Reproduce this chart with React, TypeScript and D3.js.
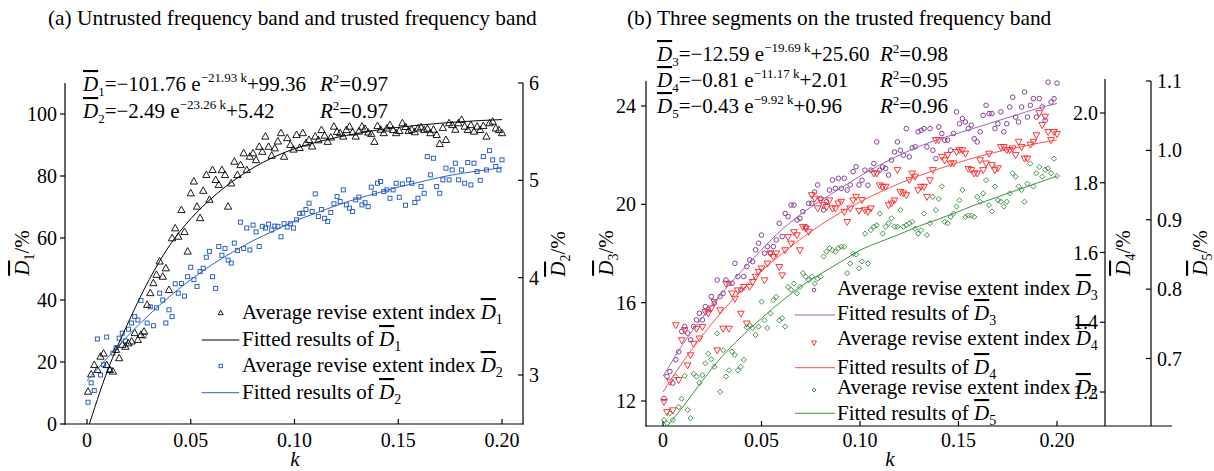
import React from 'react';
import * as d3 from 'd3';

// ---------- data ----------
const K = [
  0.0005,0.002,0.0035,0.005,0.0065,0.008,0.0095,0.011,0.0125,0.014,
  0.0155,0.017,0.0185,0.02,0.0215,0.023,0.0245,0.026,0.0275,0.029,
  0.0305,0.032,0.0335,0.035,0.0365,0.038,0.0395,0.041,0.0425,0.044,
  0.0455,0.047,0.0485,0.05,0.0515,0.053,0.0545,0.056,0.0575,0.059,
  0.0605,0.062,0.0635,0.065,0.0665,0.068,0.0695,0.071,0.0725,0.074,
  0.0755,0.077,0.0785,0.08,0.0815,0.083,0.0845,0.086,0.0875,0.089,
  0.0905,0.092,0.0935,0.095,0.0965,0.098,0.0995,0.101,0.1025,0.104,
  0.1055,0.107,0.1085,0.11,0.1115,0.113,0.1145,0.116,0.1175,0.119,
  0.1205,0.122,0.1235,0.125,0.1265,0.128,0.1295,0.131,0.1325,0.134,
  0.1355,0.137,0.1385,0.14,0.1415,0.143,0.1445,0.146,0.1475,0.149,
  0.1505,0.152,0.1535,0.155,0.1565,0.158,0.1595,0.161,0.1625,0.164,
  0.1655,0.167,0.1685,0.17,0.1715,0.173,0.1745,0.176,0.1775,0.179,
  0.1805,0.182,0.1835,0.185,0.1865,0.188,0.1895,0.191,0.1925,0.194,
  0.1955,0.197,0.1985,0.2,
];

const D1 = [
  10.4,16,19,17.4,21.7,22.7,19,17.4,16.9,23.9,
  21.2,25.5,24.9,26,26.6,29.3,27.1,28.7,29.8,38.4,
  42.2,45.4,48.1,52.4,47.5,50.2,43.2,59.9,63.1,60.4,
  69,61.9,55.6,74.4,78.2,70.1,66.4,75.2,80.3,72.3,
  81.9,78.7,77.1,81.9,80.3,70.1,77.6,84.6,80.3,83.5,
  87.3,81.9,86.2,87.3,85.1,89.4,87.8,92.7,89.4,86.5,
  88.9,91.1,93.8,86.2,92.2,90,88.5,93.2,89,93.8,
  90.5,91.6,89.5,92.7,91.5,94.8,93,91,92.4,95.9,
  94.2,93.8,92.7,94.8,95.9,94,92.7,94.3,95.9,95.2,
  94,93.5,91,96.1,94.9,93.8,95.3,96.4,94.8,93.8,
  94.5,97,95.8,94.5,94.9,94.1,95.3,95.7,94.8,95.2,
  93.8,94.9,93.2,90.3,95.5,91.6,97,96.4,94.9,97,
  98.1,95.9,94.8,96.4,94.3,95.9,94.8,96.1,92.7,97,
  97.5,95.3,94.8,93.8,
];

const D2 = [
  2.72,2.92,2.84,3.37,3.0,3.105,3.39,3.054,3.225,3.28,
  3.378,3.43,3.35,3.47,3.534,3.6,3.566,3.766,3.4,3.534,
  3.7,3.506,3.69,3.84,3.77,3.534,3.67,3.6,3.937,3.84,
  3.94,3.81,4.01,4.107,3.98,3.91,4.062,4.097,4.21,4.27,
  4.01,3.89,4.32,4.23,4.3,4.18,4.15,4.355,4.28,4.57,
  4.3,4.51,4.285,4.54,4.47,4.32,4.527,4.51,4.55,4.49,
  4.53,4.527,4.42,4.555,4.52,4.555,4.51,4.594,4.66,4.663,
  4.7,4.765,4.68,4.861,4.628,4.7,4.61,4.578,4.67,4.759,
  4.833,4.782,4.902,4.748,4.714,4.68,4.8,4.827,4.748,4.77,
  4.73,4.93,4.867,4.97,4.988,4.885,4.902,4.816,4.902,4.97,
  4.826,4.963,4.744,5.005,4.97,4.772,4.816,4.936,4.867,5.244,
  5.056,5.227,4.936,4.867,5.005,5.125,5.005,5.107,5.176,5.005,
  5.107,4.97,5.183,4.953,5.176,5.09,5.0,5.244,5.107,5.305,
  5.21,5.142,5.107,5.21,
];

const D3V = [
  12.1,13.0,13.2,12.73,13.68,14.0,14.83,15.03,14.76,14.49,
  15.03,15.3,15.57,15.3,15.84,15.71,16.25,15.98,16.92,16.25,
  16.38,16.92,16.79,16.79,17.6,17.06,16.52,17.06,17.47,17.74,
  17.67,18.15,18.42,18.75,18.01,18.28,18.01,18.28,18.55,19.23,
  18.69,19.63,19.5,19.97,19.97,19.36,19.43,19.7,19.09,20.04,
  20.04,20.5,20.79,20.24,19.77,20.11,20.58,20.99,20.65,21.06,
  20.65,21.06,20.58,20.79,21.33,21.53,20.79,20.98,21.39,20.78,
  21.39,21.66,22.54,21.39,21.52,21.46,21.19,21.8,22.13,22.54,
  22.2,22.0,23.08,21.93,22.3,22.34,22.95,23.01,23.08,22.34,
  23.08,22.2,21.86,23.15,22.88,22.61,22.61,22.2,22.88,23.76,
  23.28,23.49,23.35,23.08,23.22,22.67,22.54,22.95,23.62,24.03,
  23.69,23.69,23.08,23.28,23.76,22.95,23.28,23.96,24.36,23.55,
  23.35,23.96,24.57,23.55,24.03,24.3,23.55,24.3,23.96,23.42,
  24.97,24.16,24.3,24.93,
];

const D4V = [
  1.172,1.143,1.23,1.148,1.392,1.235,1.349,1.378,1.277,1.306,
  1.339,1.382,1.354,1.387,1.43,1.426,1.44,1.459,1.32,1.435,
  1.382,1.511,1.382,1.483,1.468,1.492,1.425,1.502,1.397,1.502,
  1.516,1.531,1.545,1.555,1.521,1.569,1.598,1.588,1.598,1.559,
  1.535,1.607,1.645,1.626,1.659,1.65,1.607,1.674,1.669,1.66,
  1.765,1.755,1.727,1.75,1.736,1.731,1.75,1.727,1.727,1.741,
  1.746,1.717,1.688,1.727,1.75,1.76,1.72,1.751,1.722,1.717,
  1.727,1.827,1.827,1.793,1.789,1.789,1.736,1.741,1.75,1.837,
  1.774,1.77,1.765,1.808,1.827,1.818,1.779,1.789,1.789,1.76,
  1.808,1.837,1.923,1.923,1.875,1.865,1.88,1.856,1.856,1.889,
  1.894,1.894,1.884,1.84,1.837,1.827,1.827,1.865,1.837,1.856,
  1.884,1.851,1.837,1.842,1.903,1.903,1.894,1.894,1.899,1.88,
  1.918,1.903,1.87,1.87,1.91,1.918,1.937,2.0,1.966,1.99,
  1.946,1.923,1.946,1.94,
];

const D5V = [
  0.6114,0.6066,0.621,0.6114,0.674,0.63,0.642,0.675,0.626,0.614,
  0.678,0.674,0.665,0.676,0.693,0.707,0.699,0.688,0.736,0.652,
  0.712,0.674,0.683,0.71,0.705,0.683,0.688,0.698,0.745,0.748,
  0.744,0.734,0.746,0.782,0.755,0.744,0.765,0.784,0.789,0.755,
  0.758,0.746,0.803,0.799,0.808,0.794,0.803,0.823,0.818,0.813,
  0.818,0.808,0.815,0.818,0.847,0.854,0.859,0.856,0.854,0.859,
  0.861,0.861,0.823,0.837,0.851,0.85,0.83,0.84,0.88,0.837,
  0.885,0.89,0.892,0.909,0.88,0.89,0.895,0.902,0.89,0.89,
  0.914,0.89,0.892,0.895,0.897,0.887,0.88,0.885,0.909,0.878,
  0.895,0.933,0.914,0.93,0.948,0.897,0.895,0.904,0.909,0.919,
  0.928,0.943,0.904,0.906,0.906,0.904,0.933,0.926,0.938,0.957,
  0.921,0.912,0.948,0.928,0.926,0.919,0.926,0.938,0.967,0.962,
  0.948,0.943,0.926,0.952,0.981,0.948,0.967,0.976,0.962,0.972,
  0.974,0.967,0.988,0.963,
];

// fitted curves, read at k = 0, 0.01, ..., 0.20
const FK = [0,0.01,0.02,0.03,0.04,0.05,0.06,0.07,0.08,0.09,0.1,0.11,0.12,0.13,0.14,0.15,0.16,0.17,0.18,0.19,0.2];
const D1FIT = [-2.4,17.4,32.9,46.6,57.8,66.2,72.8,78.2,82.6,86.1,88.8,90.8,92.4,93.7,94.8,95.7,96.4,97,97.5,97.9,98.2];
const D2FIT = [2.94,3.18,3.41,3.62,3.81,3.98,4.13,4.26,4.38,4.48,4.58,4.66,4.74,4.81,4.87,4.93,4.98,5.03,5.07,5.1,5.13];
const D3FIT = [13.0,14.3,15.4,16.4,17.3,18.15,18.95,19.6,20.15,20.65,21.15,21.6,22.0,22.35,22.65,22.9,23.15,23.4,23.65,23.9,24.1];
const D4FIT = [1.2,1.286,1.362,1.431,1.492,1.547,1.595,1.639,1.679,1.714,1.745,1.773,1.798,1.82,1.84,1.858,1.875,1.889,1.901,1.913,1.923];
const D5FIT = [0.595,0.63,0.668,0.703,0.732,0.758,0.782,0.804,0.822,0.839,0.856,0.868,0.879,0.891,0.901,0.912,0.923,0.933,0.943,0.953,0.963];

const X_TICKS = [0, 0.05, 0.1, 0.15, 0.2];
const X_TICK_LABELS = ['0', '0.05', '0.10', '0.15', '0.20'];
const D1_TICKS = [0, 20, 40, 60, 80, 100];
const D2_TICKS = [3, 4, 5, 6];
const D3_TICKS = [12, 16, 20, 24];
const D4_TICKS = [1.2, 1.4, 1.6, 1.8, 2.0];
const D4_TICK_LABELS = ['1.2', '1.4', '1.6', '1.8', '2.0'];
const D5_TICKS = [0.7, 0.8, 0.9, 1.0, 1.1];
const D5_TICK_LABELS = ['0.7', '0.8', '0.9', '1.0', '1.1'];

// ---------- style ----------
const FONT = '"Liberation Serif", "Times New Roman", "DejaVu Serif", serif';
const C_BLACK = '#000000';
const C_BLUE = '#2d63c2';
const C_PURPLE = '#7b2c8f';
const C_PURPLE_LINE = '#9b63b5';
const C_RED = '#ff2020';
const C_RED_LINE = '#ff4d4d';
const C_GREEN = '#2a8a35';
const C_GREEN_LINE = '#3a963c';

// ---------- scales ----------
const xA = d3.scaleLinear().domain([0, 0.2]).range([87, 502]);
const yA1 = d3.scaleLinear().domain([0, 100]).range([424, 114]);
const yA2 = d3.scaleLinear().domain([3, 6]).range([375, 83]);
const xB = d3.scaleLinear().domain([0, 0.2]).range([663, 1057]);
const yB3 = d3.scaleLinear().domain([12, 24]).range([401, 106]);
const yB4 = d3.scaleLinear().domain([1.2, 2.0]).range([392, 113]);
const yB5 = d3.scaleLinear().domain([0.7, 1.1]).range([358.5, 81]);

const triUp = (x: number, y: number, s = 6.5) =>
  `M${x},${y - s * 0.62}L${x + s * 0.56},${y + s * 0.38}L${x - s * 0.56},${y + s * 0.38}Z`;
const triDown = (x: number, y: number, s = 6.5) =>
  `M${x},${y + s * 0.62}L${x + s * 0.56},${y - s * 0.38}L${x - s * 0.56},${y - s * 0.38}Z`;
const diamond = (x: number, y: number, s = 2.6) =>
  `M${x},${y - s}L${x + s},${y}L${x},${y + s}L${x - s},${y}Z`;

const fitPath = (xs: d3.ScaleLinear<number, number>, ys: d3.ScaleLinear<number, number>, vals: number[]) =>
  d3.line<number>()
    .x((_, i) => xs(FK[i]))
    .y((v) => ys(v))
    .curve(d3.curveMonotoneX)(vals) || '';

const OL: React.CSSProperties = { textDecoration: 'overline' };

const DBar = ({ n, sub = 14, shift = 5, after }: { n: string; sub?: number; shift?: number; after?: string }) => (
  <>
    <tspan fontStyle="italic" style={OL}>D</tspan>
    <tspan fontSize={sub} dy={shift}>{n}</tspan>
    {after !== undefined ? <tspan dy={-shift}>{after}</tspan> : null}
  </>
);

const Eq = ({ x, y, n, a, b, c }: { x: number; y: number; n: string; a: string; b: string; c: string }) => (
  <text x={x} y={y} fontSize={21}>
    <tspan fontStyle="italic" style={OL}>D</tspan>
    <tspan fontSize={13} dy={5}>{n}</tspan>
    <tspan dy={-5}>{`=−${a} e`}</tspan>
    <tspan fontSize={13} dy={-9}>{`−${b} k`}</tspan>
    <tspan dy={9}>{`+${c}`}</tspan>
  </text>
);

const R2 = ({ x, y, v }: { x: number; y: number; v: string }) => (
  <text x={x} y={y} fontSize={21}>
    <tspan fontStyle="italic">R</tspan>
    <tspan fontSize={13} dy={-8}>2</tspan>
    <tspan dy={8}>{`=${v}`}</tspan>
  </text>
);

export default function App() {
  return (
    <svg
      width={1214}
      height={471}
      style={{ position: 'absolute', left: 0, top: 0, background: '#fff', fontFamily: FONT }}
    >
      <defs>
        <clipPath id="clipA"><rect x={65} y={83} width={458} height={341} /></clipPath>
        <clipPath id="clipB"><rect x={646} y={79} width={459} height={347} /></clipPath>
      </defs>
      <g style={{ fontFamily: FONT }}>

      {/* ================= Panel (a) ================= */}
      <text x={48} y={25} fontSize={21.4}>(a) Untrusted frequency band and trusted frequency band</text>

      {/* axes */}
      <g stroke={C_BLACK} strokeWidth={1.2} fill="none">
        <line x1={65} y1={83} x2={65} y2={424.5} />
        <line x1={64.5} y1={424} x2={523.5} y2={424} />
        <line x1={523} y1={83} x2={523} y2={424.5} />
        {D1_TICKS.map((t) => <line key={'a1' + t} x1={60} x2={65} y1={yA1(t)} y2={yA1(t)} />)}
        {D2_TICKS.map((t) => <line key={'a2' + t} x1={518} x2={523} y1={yA2(t)} y2={yA2(t)} />)}
        {X_TICKS.map((t) => <line key={'ax' + t} x1={xA(t)} x2={xA(t)} y1={424} y2={419} />)}
      </g>
      <g fontSize={20}>
        {D1_TICKS.map((t) => <text key={'la1' + t} x={57} y={yA1(t) + 7} textAnchor="end">{t}</text>)}
        {D2_TICKS.map((t) => <text key={'la2' + t} x={529} y={yA2(t) + 7}>{t}</text>)}
        {X_TICKS.map((t, i) => <text key={'lax' + t} x={xA(t)} y={447} textAnchor="middle">{X_TICK_LABELS[i]}</text>)}
      </g>
      <text x={295} y={466} fontSize={21} fontStyle="italic" textAnchor="middle">k</text>
      <text transform="translate(29,253) rotate(-90)" fontSize={21} textAnchor="middle">
        <DBar n="1" after="/%" />
      </text>
      <text transform="translate(565,254) rotate(-90)" fontSize={21} textAnchor="middle">
        <DBar n="2" after="/%" />
      </text>

      {/* data */}
      <g clipPath="url(#clipA)">
        <g fill="none" stroke={C_BLUE} strokeWidth={1}>
          {K.map((k, i) => <rect key={'sq' + i} x={xA(k) - 2} y={yA2(D2[i]) - 2} width={4} height={4} />)}
        </g>
        <g fill="none" stroke={C_BLACK} strokeWidth={0.9}>
          {K.map((k, i) => <path key={'tr' + i} d={triUp(xA(k), yA1(D1[i]))} />)}
        </g>
        <path d={fitPath(xA, yA1, D1FIT)} fill="none" stroke={C_BLACK} strokeWidth={1} />
        <path d={fitPath(xA, yA2, D2FIT)} fill="none" stroke={C_BLUE} strokeWidth={1} />
      </g>

      {/* equations */}
      <Eq x={83} y={91} n="1" a="101.76" b="21.93" c="99.36" />
      <R2 x={320} y={91} v="0.97" />
      <Eq x={83} y={118} n="2" a="2.49" b="23.26" c="5.42" />
      <R2 x={320} y={118} v="0.97" />

      {/* legend */}
      <path d={triUp(220.7, 313, 4.5)} fill="none" stroke={C_BLACK} strokeWidth={0.9} />
      <line x1={201.7} x2={239.3} y1={340} y2={340} stroke={C_BLACK} strokeWidth={1} />
      <rect x={219} y={364.3} width={3.4} height={3.4} fill="none" stroke={C_BLUE} strokeWidth={1} />
      <line x1={201.7} x2={239.3} y1={392.7} y2={392.7} stroke={C_BLUE} strokeWidth={1} />
      <g fontSize={21}>
        <text x={242} y={319}>Average revise extent index <DBar n="1" /></text>
        <text x={242} y={346}>Fitted results of <DBar n="1" /></text>
        <text x={242} y={372}>Average revise extent index <DBar n="2" /></text>
        <text x={242} y={399}>Fitted results of <DBar n="2" /></text>
      </g>

      {/* ================= Panel (b) ================= */}
      <text x={627} y={25} fontSize={21.4}>(b) Three segments on the trusted frequency band</text>

      <g stroke={C_BLACK} strokeWidth={1.2} fill="none">
        <line x1={646} y1={81} x2={646} y2={426.5} />
        <line x1={645.5} y1={426} x2={1172} y2={426} />
        <line x1={1105} y1={79} x2={1105} y2={426} />
        <line x1={1151} y1={81} x2={1151} y2={426} />
        {D3_TICKS.map((t) => <line key={'b3' + t} x1={641} x2={646} y1={yB3(t)} y2={yB3(t)} />)}
        {D4_TICKS.map((t) => <line key={'b4' + t} x1={1100} x2={1105} y1={yB4(t)} y2={yB4(t)} />)}
        {D5_TICKS.map((t) => <line key={'b5' + t} x1={1146} x2={1151} y1={yB5(t)} y2={yB5(t)} />)}
        {X_TICKS.map((t) => <line key={'bx' + t} x1={xB(t)} x2={xB(t)} y1={426} y2={421} />)}
      </g>
      <g fontSize={20}>
        {D3_TICKS.map((t) => <text key={'lb3' + t} x={636} y={yB3(t) + 7} textAnchor="end">{t}</text>)}
        {D4_TICKS.map((t, i) => <text key={'lb4' + t} x={1098} y={yB4(t) + 7} textAnchor="end">{D4_TICK_LABELS[i]}</text>)}
        {D5_TICKS.map((t, i) => <text key={'lb5' + t} x={1157} y={yB5(t) + 7}>{D5_TICK_LABELS[i]}</text>)}
        {X_TICKS.map((t, i) => <text key={'lbx' + t} x={xB(t)} y={447} textAnchor="middle">{X_TICK_LABELS[i]}</text>)}
      </g>
      <text x={890} y={466} fontSize={21} fontStyle="italic" textAnchor="middle">k</text>
      <text transform="translate(613,253) rotate(-90)" fontSize={21} textAnchor="middle">
        <DBar n="3" after="/%" />
      </text>
      <text transform="translate(1130,253) rotate(-90)" fontSize={21} textAnchor="middle">
        <DBar n="4" after="/%" />
      </text>
      <text transform="translate(1207,253) rotate(-90)" fontSize={21} textAnchor="middle">
        <DBar n="5" after="/%" />
      </text>

      <g clipPath="url(#clipB)">
        <g fill="none" stroke={C_PURPLE} strokeWidth={0.9}>
          {K.map((k, i) => <circle key={'c' + i} cx={xB(k)} cy={yB3(D3V[i])} r={2.3} />)}
        </g>
        <g fill="none" stroke={C_RED} strokeWidth={0.9}>
          {K.map((k, i) => <path key={'rd' + i} d={triDown(xB(k), yB4(D4V[i]), 6)} />)}
        </g>
        <g fill="none" stroke={C_GREEN} strokeWidth={0.9}>
          {K.map((k, i) => <path key={'gd' + i} d={diamond(xB(k), yB5(D5V[i]))} />)}
        </g>
        <path d={fitPath(xB, yB3, D3FIT)} fill="none" stroke={C_PURPLE_LINE} strokeWidth={1} />
        <path d={fitPath(xB, yB4, D4FIT)} fill="none" stroke={C_RED_LINE} strokeWidth={1} />
        <path d={fitPath(xB, yB5, D5FIT)} fill="none" stroke={C_GREEN_LINE} strokeWidth={1} />
      </g>

      <Eq x={657} y={61} n="3" a="12.59" b="19.69" c="25.60" />
      <R2 x={880} y={61} v="0.98" />
      <Eq x={657} y={87} n="4" a="0.81" b="11.17" c="2.01" />
      <R2 x={880} y={87} v="0.95" />
      <Eq x={657} y={113} n="5" a="0.43" b="9.92" c="0.96" />
      <R2 x={880} y={113} v="0.96" />

      {/* legend (b) */}
      <circle cx={814} cy={290} r={1.8} fill="none" stroke={C_PURPLE} strokeWidth={0.9} />
      <line x1={795} x2={835} y1={315} y2={315} stroke={C_PURPLE_LINE} strokeWidth={1} />
      <path d={triDown(814, 342.7, 4.5)} fill="none" stroke={C_RED} strokeWidth={0.9} />
      <line x1={795} x2={835} y1={367.7} y2={367.7} stroke={C_RED_LINE} strokeWidth={1} />
      <path d={diamond(814, 390, 2)} fill="none" stroke={C_GREEN} strokeWidth={0.9} />
      <line x1={795} x2={835} y1={413.3} y2={413.3} stroke={C_GREEN_LINE} strokeWidth={1} />
      <g fontSize={21}>
        <text x={837} y={295}>Average revise extent index <DBar n="3" /></text>
        <text x={837} y={320}>Fitted results of <DBar n="3" /></text>
        <text x={837} y={345}>Average revise extent index <DBar n="4" /></text>
        <text x={837} y={374}>Fitted results of <DBar n="4" /></text>
        <text x={837} y={394}>Average revise extent index <DBar n="5" /></text>
        <text x={837} y={420}>Fitted results of <DBar n="5" /></text>
      </g>
      </g>
    </svg>
  );
}
